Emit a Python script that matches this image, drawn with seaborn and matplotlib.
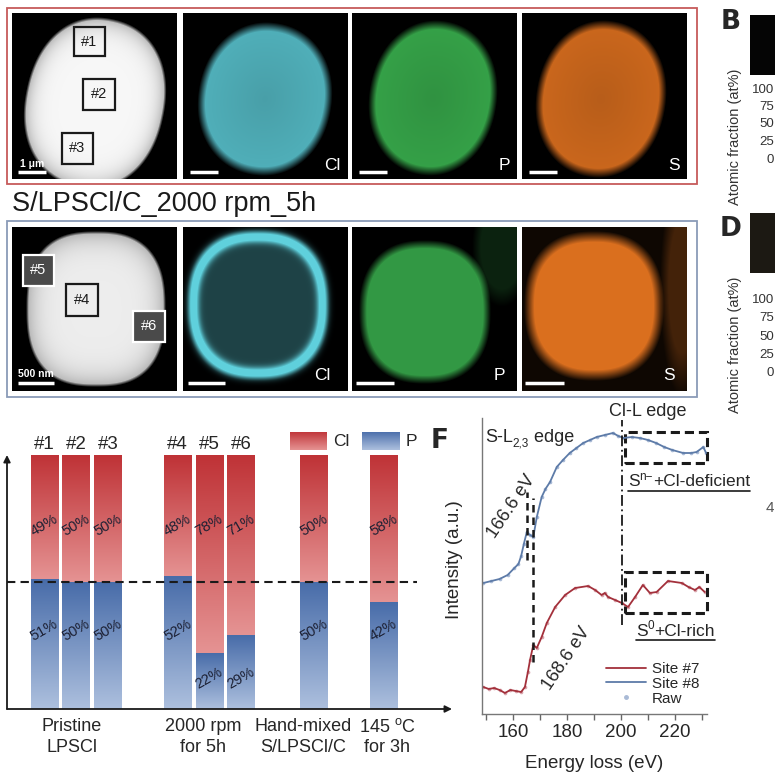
import numpy as np
import pandas as pd
import matplotlib
matplotlib.use("Agg")
import matplotlib.pyplot as plt
import seaborn as sns
from matplotlib.patches import Rectangle
from matplotlib.lines import Line2D
from matplotlib.colors import to_rgb

# ---------------- data ----------------
bar_sites = ["#1", "#2", "#3", "#4", "#5", "#6", "Hand-mixed", "145 C"]
bar_tags = ["#1", "#2", "#3", "#4", "#5", "#6", "", ""]
cl_pct = [49, 50, 50, 48, 78, 71, 50, 58]
p_pct = [51, 50, 50, 52, 22, 29, 50, 42]
group_labels = ["Pristine\nLPSCl", "2000 rpm\nfor 5h", "Hand-mixed\nS/LPSCl/C",
                "145 $^{\\mathregular{o}}$C\nfor 3h"]

energy_8 = [149, 152, 155, 158, 160.5, 162, 163, 164, 165.1, 166.3, 167.5, 168.8,
            170.6, 172, 173.7, 176.2, 178.5, 181, 183.5, 186, 188.5, 191, 194, 197,
            199, 201, 204, 207, 210, 213, 216, 219, 223, 226, 228, 230.5, 231.5]
inten_8 = [131, 133, 135, 139, 146, 150, 158, 170, 182, 179, 177, 197,
           217, 225, 232, 247, 254, 261, 266, 271, 274, 277, 279, 281,
           278, 276, 277, 276, 274, 271, 267, 264, 261, 261, 262, 267, 261]

energy_7 = [149, 151, 153, 155, 157, 159, 161, 163, 164.4, 165.5, 166.3, 167.5,
            168.8, 170.6, 172.5, 175.6, 179.3, 183, 187.8, 190.4, 192.8, 194,
            195.2, 197.8, 200.3, 202.6, 205.2, 208.1, 210.7, 213.2, 217.4, 222.5,
            225, 227.4, 229, 231]
inten_7 = [27, 25, 26, 24, 21, 24, 23, 22, 27, 42, 54, 69,
           66, 77, 91, 107, 119, 126, 128, 124, 119, 121,
           117, 114, 111, 107, 117, 129, 121, 122, 133, 131,
           127, 124, 127, 122]

# ---------------- layout ----------------
bar_pos = [0, 1, 2, 4.2, 5.2, 6.2, 8.5, 10.7]
W, H = 775, 776

sns.set_theme(style="white")
plt.rcParams["font.family"] = ["Liberation Sans", "DejaVu Sans"]
plt.rcParams["mathtext.fontset"] = "custom"
plt.rcParams["mathtext.rm"] = "Liberation Sans"
plt.rcParams["mathtext.it"] = "Liberation Sans:italic"
NARROW = ["Liberation Sans Narrow", "DejaVu Sans"]

fig = plt.figure(figsize=(W / 100, H / 100), dpi=100)
fig.patch.set_facecolor("white")


def px_rect(x0, y0, x1, y1):
    return [x0 / W, 1 - y1 / H, (x1 - x0) / W, (y1 - y0) / H]


def fx(x):
    return x / W


def fy(y):
    return 1 - y / H


def ftext(x, y, s, **kw):
    return fig.text(fx(x), fy(y), s, **kw)


def fline(x0, y0, x1, y1, **kw):
    fig.add_artist(Line2D([fx(x0), fx(x1)], [fy(y0), fy(y1)], transform=fig.transFigure, **kw))


# ---------------- microscopy-like panels ----------------
def grid(w, h):
    yy, xx = np.mgrid[0:h, 0:w].astype(float)
    return xx + 0.5, yy + 0.5


def sdist(xx, yy, cx, cy, rx, ry, ang=0.0, p=2.0):
    a = np.deg2rad(ang)
    u = (xx - cx) * np.cos(a) + (yy - cy) * np.sin(a)
    v = -(xx - cx) * np.sin(a) + (yy - cy) * np.cos(a)
    return (np.abs(u / rx) ** p + np.abs(v / ry) ** p) ** (1 / p)


def soft(d, edge):
    return np.clip((1 - d) / edge, 0, 1)


def panel(rect):
    x0, y0, x1, y1 = rect
    ax = fig.add_axes(px_rect(x0, y0, x1, y1))
    ax.set_axis_off()
    return ax, x1 - x0, y1 - y0


def show(ax, img, w, h):
    ax.imshow(np.clip(img, 0, 1), extent=(0, w, h, 0), aspect="auto", interpolation="bilinear")
    ax.set_xlim(0, w)
    ax.set_ylim(h, 0)


def colorize(val, col):
    return val[..., None] * np.array(to_rgb(col))[None, None, :]


CYAN, GREEN, ORANGE = "#5fd0dc", "#3fbf55", "#f07a22"

top_rects = [(12, 13, 177, 179), (183, 13, 348, 179), (352, 13, 517, 179), (522, 13, 687, 179)]
bot_rects = [(12, 227, 177, 391), (183, 227, 348, 391), (352, 227, 517, 391), (522, 227, 687, 391)]

# top row: SEM
ax, w, h = panel(top_rects[0])
xx, yy = grid(w, h)
d = sdist(xx, yy, 83, 90, 70, 86, ang=12, p=2.2)
val = (0.97 - 0.3 * d ** 8) * soft(d, 0.04)
show(ax, colorize(val, "#ffffff"), w, h)
for (bx0, by0, bx1, by1, t) in [(62, 14, 93, 43, "#1"), (71, 66, 103, 97, "#2"), (50, 120, 81, 151, "#3")]:
    ax.add_patch(Rectangle((bx0, by0), bx1 - bx0, by1 - by0, fill=False, ec="k", lw=1.6))
    ax.text((bx0 + bx1) / 2, (by0 + by1) / 2, t, ha="center", va="center", fontsize=10.5, color="k")
ax.plot([6, 34], [159, 159], color="w", lw=2.5, solid_capstyle="butt")
ax.text(20, 151, "1 μm", color="w", ha="center", va="center", fontsize=7.5, fontweight="bold")

# top row: maps
for rect, col, cx, cy, rx, ry, lab in [(top_rects[1], CYAN, 82, 86, 67, 77, "Cl"),
                                        (top_rects[2], GREEN, 81, 85, 64, 78, "P"),
                                        (top_rects[3], ORANGE, 79, 86, 65, 79, "S")]:
    ax, w, h = panel(rect)
    xx, yy = grid(w, h)
    d = sdist(xx, yy, cx, cy, rx, ry, ang=10, p=2.1)
    val = 0.85 * soft(d, 0.12) * (0.9 + 0.1 * d)
    show(ax, colorize(val, col), w, h)
    ax.plot([7, 35], [159, 159], color="w", lw=2.5, solid_capstyle="butt")
    ax.text(w - 7, 153, lab, color="w", ha="right", va="center", fontsize=12.5)

# bottom row: SEM
ax, w, h = panel(bot_rects[0])
xx, yy = grid(w, h)
d = sdist(xx, yy, 84, 82, 70, 78, ang=0, p=2.6)
val = (0.93 - 0.25 * d ** 6) * soft(d, 0.04)
show(ax, colorize(val, "#ffffff"), w, h)
for (bx0, by0, bx1, by1, t, ec, fc, tc) in [(11, 28, 42, 59, "#5", "w", "#4a4a4a", "w"),
                                            (54, 57, 86, 89, "#4", "k", "none", "k"),
                                            (121, 84, 153, 115, "#6", "w", "#4a4a4a", "w")]:
    ax.add_patch(Rectangle((bx0, by0), bx1 - bx0, by1 - by0, fill=(fc != "none"),
                           fc=fc, ec=ec, lw=1.6))
    ax.text((bx0 + bx1) / 2, (by0 + by1) / 2, t, ha="center", va="center", fontsize=10.5, color=tc)
ax.plot([6, 42], [156, 156], color="w", lw=2.5, solid_capstyle="butt")
ax.text(24, 147, "500 nm", color="w", ha="center", va="center", fontsize=7.5, fontweight="bold")

# bottom row: Cl ring
ax, w, h = panel(bot_rects[1])
xx, yy = grid(w, h)
d = sdist(xx, yy, 75, 78, 72, 76, ang=0, p=2.4)
val = np.clip(0.95 * np.exp(-((d - 0.9) / 0.08) ** 2) + 0.32 * soft(d, 0.1), 0, 1)
show(ax, colorize(val, CYAN), w, h)
ax.plot([5, 42], [156, 156], color="w", lw=2.5, solid_capstyle="butt")
ax.text(w - 17, 148, "Cl", color="w", ha="right", va="center", fontsize=12.5)

# bottom row: P
ax, w, h = panel(bot_rects[2])
xx, yy = grid(w, h)
d = sdist(xx, yy, 73, 85, 66, 72, ang=0, p=2.4)
d2 = sdist(xx, yy, 150, 20, 30, 60, ang=0, p=2.0)
val = 0.8 * soft(d, 0.12) + 0.18 * soft(d2, 0.3)
show(ax, colorize(val, GREEN), w, h)
ax.plot([4, 42], [156, 156], color="w", lw=2.5, solid_capstyle="butt")
ax.text(w - 12, 148, "P", color="w", ha="right", va="center", fontsize=12.5)

# bottom row: S
ax, w, h = panel(bot_rects[3])
xx, yy = grid(w, h)
d = sdist(xx, yy, 72, 79, 70, 75, ang=0, p=2.4)
d2 = sdist(xx, yy, 160, 60, 22, 110, ang=0, p=2.0)
val = 0.85 * soft(d, 0.15) + 0.22 * soft(d2, 0.4) + 0.06
show(ax, colorize(val, ORANGE), w, h)
ax.plot([3, 42], [156, 156], color="w", lw=2.5, solid_capstyle="butt")
ax.text(w - 12, 148, "S", color="w", ha="right", va="center", fontsize=12.5)

# frames and title
fig.add_artist(Rectangle((fx(7), fy(184)), (697 - 7) / W, (184 - 8) / H, transform=fig.transFigure,
                         fill=False, ec="#c65b5b", lw=1.3))
fig.add_artist(Rectangle((fx(7), fy(397)), (697 - 7) / W, (397 - 221) / H, transform=fig.transFigure,
                         fill=False, ec="#8a9bb8", lw=1.3))
ftext(12, 204, "S/LPSCl/C_2000 rpm_5h", fontsize=19.5, ha="left", va="center", color="#1a1a1a")

# right-edge fragments of neighbouring panels
ftext(731, 22, "B", fontsize=19, fontweight="bold", family=NARROW, ha="center", va="center")
ftext(731, 229, "D", fontsize=19, fontweight="bold", family=NARROW, ha="center", va="center")
fig.add_artist(Rectangle((fx(750), fy(75)), 26 / W, 60 / H, transform=fig.transFigure, fc="#050505", ec="none"))
fig.add_artist(Rectangle((fx(750), fy(273)), 26 / W, 60 / H, transform=fig.transFigure, fc="#1c1913", ec="none"))
for yc, ticks in [(137, [90, 107, 124, 142, 160]), (345, [300, 318, 337, 355, 373])]:
    ftext(735, yc, "Atomic fraction (at%)", rotation=90, fontsize=10.5, ha="center", va="center", color="#333333")
    for t, yt in zip(["100", "75", "50", "25", "0"], ticks):
        ftext(774, yt, t, fontsize=9.5, ha="right", va="center", color="#333333")
ftext(774, 508, "4", fontsize=11, ha="right", va="center", color="#555555")

# ---------------- panel E: stacked bars ----------------
CL_DARK, CL_LIGHT = "#bf3236", "#e59393"
P_DARK, P_LIGHT = "#486ca9", "#adc0de"

ax_e = fig.add_axes(px_rect(7, 455, 452, 709))
df = pd.DataFrame({"pos": bar_pos, "site": bar_sites, "Cl": cl_pct, "P": p_pct})
df["total"] = df["Cl"] + df["P"]
sns.barplot(data=df, x="pos", y="total", native_scale=True, width=0.87, color=CL_DARK,
            errorbar=None, linewidth=0, saturation=1, ax=ax_e)
sns.barplot(data=df, x="pos", y="P", native_scale=True, width=0.87, color=P_DARK,
            errorbar=None, linewidth=0, saturation=1, ax=ax_e)
xl = (-1.183, 12.855)
ax_e.set_xlim(*xl)
ax_e.set_ylim(0, 100)


def grad(dark, light, n=256):
    t = np.linspace(0, 1, n)[:, None, None]
    return (1 - t) * np.array(to_rgb(light)) + t * np.array(to_rgb(dark))


patches = list(ax_e.patches)
n = len(df)
for i in range(n):
    tot = patches[i]
    pb = patches[n + i]
    x0, wdt = tot.get_x(), tot.get_width()
    ptop = pb.get_height()
    ttop = tot.get_height()
    ax_e.imshow(grad(CL_DARK, CL_LIGHT), extent=(x0, x0 + wdt, ptop, ttop), origin="lower",
                aspect="auto", zorder=3)
    ax_e.imshow(grad(P_DARK, P_LIGHT), extent=(x0, x0 + wdt, 0, ptop), origin="lower",
                aspect="auto", zorder=3)
ax_e.set_xlim(*xl)
ax_e.set_ylim(0, 100)

for pos, c, p, tag in zip(df["pos"], df["Cl"], df["P"], bar_tags):
    ax_e.text(pos, 72.5, f"{c}%", rotation=30, ha="center", va="center", fontsize=10.5,
              color="#1c2033", zorder=5)
    py = 31 if p >= 40 else 12
    ax_e.text(pos, py, f"{p}%", rotation=30, ha="center", va="center", fontsize=10.5,
              color="#1c2033", zorder=5)
    if tag:
        ax_e.text(pos, 104, tag, ha="center", va="center", fontsize=13.5, clip_on=False)

ax_e.axhline(50, xmin=0, xmax=(417 - 7) / 445, color="k", ls=(0, (4, 2.5)), lw=1.5, zorder=6)
for s in ax_e.spines.values():
    s.set_visible(False)
ax_e.set_xticks([])
ax_e.set_yticks([])
ax_e.set_xlabel("")
ax_e.set_ylabel("")
arrow = dict(arrowstyle="-|>", color="k", lw=1.3, shrinkA=0, shrinkB=0, mutation_scale=10)
ax_e.annotate("", xy=(0, 1.0), xytext=(0, 0), xycoords="axes fraction", arrowprops=arrow,
              annotation_clip=False)
ax_e.annotate("", xy=(1.0, 0), xytext=(0, 0), xycoords="axes fraction", arrowprops=arrow,
              annotation_clip=False)

for gx, lab in zip([72, 203, 303, 387], group_labels):
    ftext(gx, 737, lab, ha="center", va="center", fontsize=13, linespacing=1.3)

# legend swatches
for (x0, x1), dark, light, lab, tx in [((290, 327), CL_DARK, CL_LIGHT, "Cl", 333),
                                       ((362, 400), P_DARK, P_LIGHT, "P", 406)]:
    sw = fig.add_axes(px_rect(x0, 432, x1, 450))
    sw.imshow(grad(dark, light), origin="lower", aspect="auto", extent=(0, 1, 0, 1))
    sw.set_axis_off()
    ftext(tx, 441, lab, ha="left", va="center", fontsize=12.5)

# ---------------- panel F: EELS spectra ----------------
RED, RED_RAW = "#a3303b", "#d9a5ad"
BLUE, BLUE_RAW = "#5d7ba8", "#a9bad6"
ax_f = fig.add_axes(px_rect(482, 418, 707, 714))
sns.scatterplot(x=energy_7, y=inten_7, color=RED_RAW, s=7, linewidth=0, ax=ax_f, zorder=1)
sns.scatterplot(x=energy_8, y=inten_8, color=BLUE_RAW, s=7, linewidth=0, ax=ax_f, zorder=1)
sns.lineplot(x=energy_7, y=inten_7, color=RED, lw=1.3, ax=ax_f, zorder=2)
sns.lineplot(x=energy_8, y=inten_8, color=BLUE, lw=1.3, ax=ax_f, zorder=2)
ax_f.set_xlim(148.5, 231.85)
ax_f.set_ylim(0, 296)
ax_f.set_yticks([])
ax_f.set_xticks([160, 180, 200, 220])
ax_f.set_xticks([150, 170, 190, 210, 230], minor=True)
ax_f.tick_params(axis="x", which="both", direction="out", length=4, width=1, color="#666666",
                 labelsize=13.5, pad=3, bottom=True)
for side in ["top", "right"]:
    ax_f.spines[side].set_visible(False)
for side in ["left", "bottom"]:
    ax_f.spines[side].set_color("#777777")
    ax_f.spines[side].set_linewidth(1)
ax_f.set_xlabel("Energy loss (eV)", fontsize=13.5)
ax_f.set_ylabel("Intensity (a.u.)", fontsize=13.5)
ax_f.xaxis.set_label_coords(0.5, -0.138)
ax_f.yaxis.set_label_coords(-0.085, 0.52)

leg_handles = [Line2D([], [], color=RED, lw=1.3), Line2D([], [], color=BLUE, lw=1.3),
               Line2D([], [], color=BLUE_RAW, marker="o", ms=2.5, ls="none")]
ax_f.legend(leg_handles, ["Site #7", "Site #8", "Raw"], loc="upper left",
            bbox_to_anchor=((606 - 482) / 225, (714 - 662) / 296), frameon=False, fontsize=11,
            handlelength=2.6, handletextpad=0.4, labelspacing=0.05, borderpad=0, borderaxespad=0)

dash = (0, (3, 2))
ax_f.plot([165.3, 165.3], [154, 222], color="k", lw=1.8, ls=dash)
ax_f.plot([167.5, 167.5], [52, 216], color="k", lw=1.8, ls=dash)
ax_f.plot([200.2, 200.2], [89, 294], color="k", lw=1.3, ls=(0, (6, 2, 1, 2)), clip_on=False)
for (y0, y1) in [(251, 282), (101, 142)]:
    ax_f.add_patch(Rectangle((201.5, y0), 30.3, y1 - y0, fill=False, ec="k", lw=2.2,
                             ls=(0, (3, 1.6)), clip_on=False))

ftext(648, 412, "Cl-L edge", ha="center", va="center", fontsize=13)
ftext(511, 507, "166.6 eV", ha="center", va="center", fontsize=13, rotation=56)
ftext(566, 659, "168.6 eV", ha="center", va="center", fontsize=13, rotation=56)
ftext(440, 441, "F", fontsize=19, fontweight="bold", family=NARROW, ha="center", va="center")


def compose(x, y, parts):
    """Lay text pieces side by side: (text, fontsize, vertical offset in px)."""
    fig.canvas.draw()
    r = fig.canvas.get_renderer()
    cur = x
    for s, fs, dy in parts:
        t = ftext(cur, y + dy, s, ha="left", va="center", fontsize=fs)
        bb = t.get_window_extent(renderer=r)
        cur = bb.x1
    return x, cur


compose(485, 438, [("S-L", 13, 0), ("2,3", 8.5, 5), (" edge", 13, 0)])
for (x, y, parts) in [(628, 482, [("S", 12.5, 0), ("n\u2212", 8.5, -5), ("+Cl-deficient", 12.5, 0)]),
                      (636, 631, [("S", 12.5, 0), ("0", 8.5, -5), ("+Cl-rich", 12.5, 0)])]:
    xs, xe = compose(x, y, parts)
    fline(xs, y + 9, xe, y + 9, color="k", lw=1.2)

fig.savefig("out.png", dpi=100, facecolor="white")
